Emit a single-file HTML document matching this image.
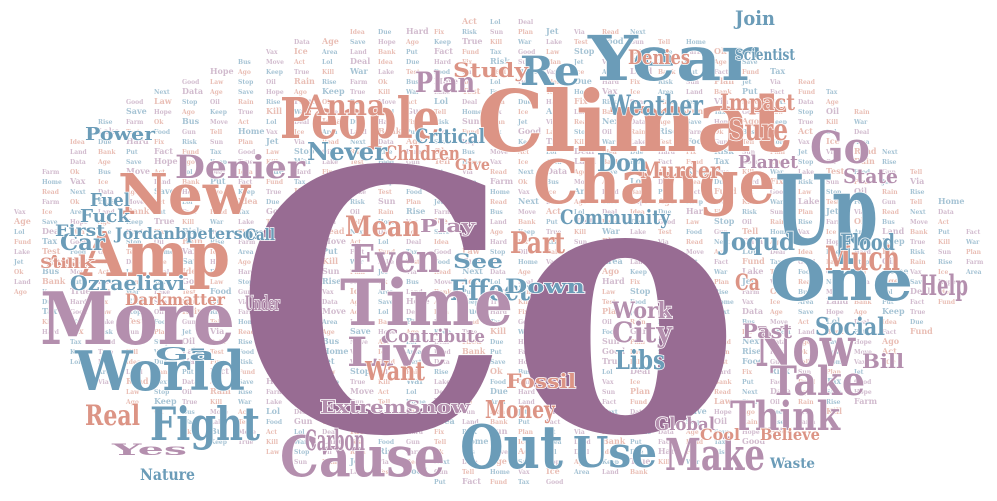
<!DOCTYPE html>
<html><head><meta charset="utf-8"><style>
html,body{margin:0;padding:0;background:#fff}
svg{display:block}
text{font-family:"DejaVu Serif","Liberation Serif",serif;font-weight:bold}
</style></head><body>
<svg id="cloud" width="997" height="501" viewBox="0 0 997 501" xmlns="http://www.w3.org/2000/svg">
<g id="filler"></g>
<g id="big"></g>
</svg>
<script>
const P='#986c93',S='#dc9485',B='#6b9cb8',M='#b48fae';
const words=["Co","Climat","Change","Year","Re","Up","One","Go","People","Anna","New","Amp","More","World","Fight","Real","Denier","Ozraeliavi","Jordanbpeterson","Darkmatter","Even","Mean","Effect","Time","Live","Cause","Out","Use","Make","City","Libs","Work","Money","Now","Take","Think","Much","Help","Joqud","Social","Weather","Sure","Impact","Denies","Murder","Planet","State","Plan","Children","Never","Critical","Study","Don","Community","Part","Down","Fossil","Extreme","Snow","Want","Contribute","Global","Power","Fuel","Car","Ask","Under","Ga","Carbon","Nature","Yes","Flood","Past","Bill","Join","Scientist","Play","See","Ca","Cool","Believe","Waste","Fuck","First","Still","Call","Give"];
// [x, baseline, width, fontSize, color]
const layout=[
[235,430,505,360,P],[477,151,313,84,S],[533,203,242,60,S],[588,80,170,62,B],[520,85,60,40,B],
[775,244,103,96,B],[770,300,143,58,B],[810,163,60,44,M],[280,138,160,56,S],[305,115,80,28,S],
[118,214,132,56,S],[80,276,150,62,S],[40,344,195,72,M],[75,390,170,54,B],[150,440,110,46,B],
[85,425,55,28,S],[175,178,130,32,M],[70,290,115,20,B],[115,239,150,16,B],[125,305,100,16,S],
[350,272,90,38,M],[345,236,75,28,S],[450,300,80,28,B],[340,325,173,64,M],[347,366,100,40,M],
[280,476,165,56,M],[460,468,103,60,B],[573,467,84,42,B],[665,470,100,44,M],[612,342,60,28,M],
[615,369,50,26,B],[612,318,60,22,M],[485,418,70,24,S],[755,366,100,54,M],[770,395,95,40,M],
[730,430,110,40,M],[825,270,75,34,S],[920,295,48,28,M],[720,250,75,24,B],[815,335,70,24,B],
[608,115,95,28,B],[728,140,60,30,S],[720,110,75,22,S],[628,64,62,20,S],[640,178,80,22,S],
[738,168,60,18,M],[843,183,55,20,M],[415,92,60,28,M],[385,160,75,20,S],[307,160,80,24,B],
[415,143,70,20,B],[453,77,75,20,S],[597,171,50,24,B],[560,224,110,20,B],[510,253,55,30,S],
[505,293,80,20,B],[506,388,70,20,S],[320,413,100,18,M],[405,413,65,18,M],[365,380,60,26,S],
[385,342,100,18,M],[655,430,60,18,M],[85,140,70,18,B],[90,206,40,18,B],[60,250,45,22,B],
[45,268,50,18,S],[245,310,35,20,M],[155,360,60,18,B],[305,450,60,28,M],[140,480,55,16,B],
[112,455,75,16,M],[840,250,55,22,B],[742,338,50,20,M],[862,368,42,20,M],[735,25,40,20,B],
[735,60,60,16,B],[420,232,55,18,M],[453,268,50,20,B],[735,290,25,22,S],[700,440,40,16,S],
[760,440,60,16,S],[770,468,45,14,B],[80,222,50,18,B],[55,236,50,16,B],[40,268,40,14,S],
[245,240,30,16,B],[455,170,35,16,S]
];
const cols=[S,B,M,S,B,M,P];
const small=["Act","Risk","Data","Kill","Home","Fact","Rain","Lol","Sun","Age","War","Vax","Fund","Rise","Deal","Plan","Save","Lake","Ice","Tax","Farm","Idea","Jet","Hope","Test","Area","Good","Ok","Due","Via","Ago","Food","Land","Law","Bus","Hard","Read","Keep","Gun","Bank","Stop","Move","Fix","Next","True","Tell","Put","Oil"];
const NS='http://www.w3.org/2000/svg';
const fg=document.getElementById('filler');
let k=0;
for(let y=24;y<492;y+=10){
  for(let x=14;x<985;x+=28){
    const cx=x+10,cy=y;
    const ex=(cx-500)/485;
    const ey=(cy-255)/(cx<700?232:(cx<870?228:205-(cx-870)*0.8));
    if(ex*ex+ey*ey>1)continue;
    const t=document.createElementNS(NS,'text');
    
    
    t.setAttribute('x',x);t.setAttribute('y',y);
    t.setAttribute('font-size',k%5==0?8:6);
    t.setAttribute('fill',cols[k%6]);
    t.setAttribute('opacity','0.6');
    t.textContent=small[(k*7)%small.length];
    fg.appendChild(t);k++;
  }
}
const bg=document.getElementById('big');
layout.forEach((l,i)=>{
  const t=document.createElementNS(NS,'text');
  
  
  t.setAttribute('x',l[0]);t.setAttribute('y',l[1]);
  t.setAttribute('textLength',l[2]);t.setAttribute('lengthAdjust','spacingAndGlyphs');
  t.setAttribute('font-size',l[3]);t.setAttribute('fill',l[4]);
  t.setAttribute('stroke','#fff');t.setAttribute('stroke-width',i==0?0:1.5);t.setAttribute('paint-order','stroke');
  t.textContent=words[i];
  bg.appendChild(t);
});
</script>
</body></html>
